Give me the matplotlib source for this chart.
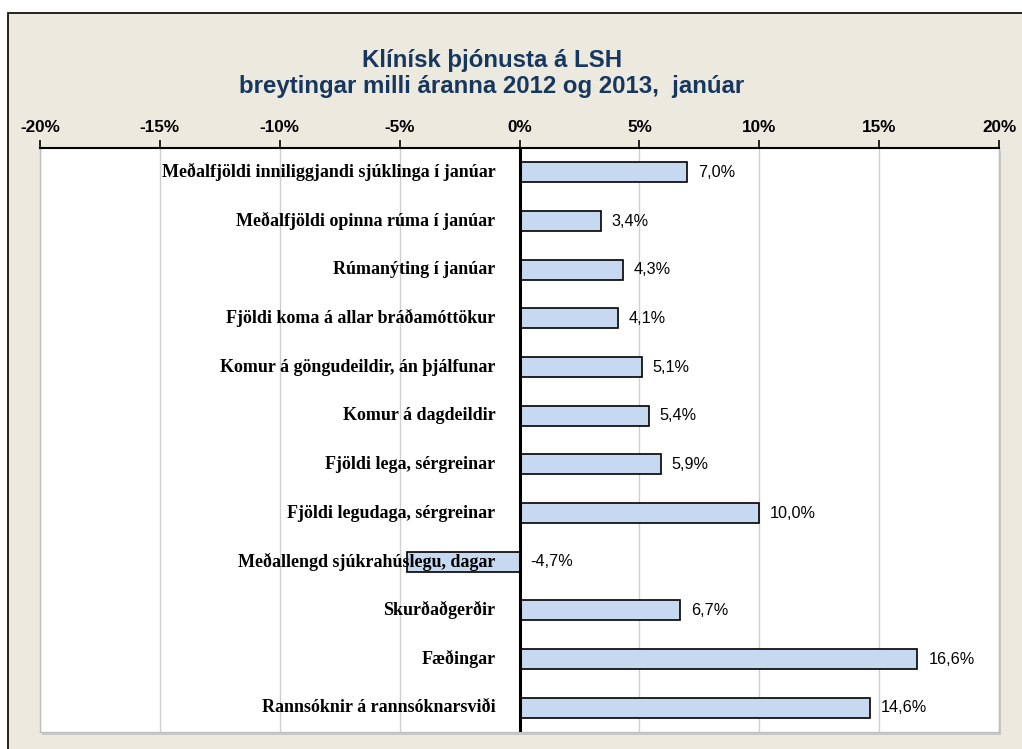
import matplotlib
matplotlib.use("Agg")
import matplotlib.pyplot as plt
from matplotlib.patches import Rectangle
from matplotlib.ticker import FixedLocator

categories = [
    "Meðalfjöldi inniliggjandi sjúklinga í janúar",
    "Meðalfjöldi opinna rúma í janúar",
    "Rúmanýting í janúar",
    "Fjöldi koma á allar bráðamóttökur",
    "Komur á göngudeildir, án þjálfunar",
    "Komur á dagdeildir",
    "Fjöldi lega, sérgreinar",
    "Fjöldi legudaga, sérgreinar",
    "Meðallengd sjúkrahúslegu, dagar",
    "Skurðaðgerðir",
    "Fæðingar",
    "Rannsóknir á rannsóknarsviði",
]
values = [7.0, 3.4, 4.3, 4.1, 5.1, 5.4, 5.9, 10.0, -4.7, 6.7, 16.6, 14.6]
tick_values = [-20, -15, -10, -5, 0, 5, 10, 15, 20]
tick_labels = ["-20%", "-15%", "-10%", "-5%", "0%", "5%", "10%", "15%", "20%"]
title_lines = ["Klínísk þjónusta á LSH", "breytingar milli áranna 2012 og 2013,  janúar"]

W, H = 1022, 749
fig = plt.figure(figsize=(W / 100, H / 100), dpi=100, facecolor="white")
bg = "#ece9df"
fig.patches.append(Rectangle((8 / W, -0.01), 1.02, (H - 13) / H + 0.01, transform=fig.transFigure,
                             facecolor=bg, edgecolor="black", linewidth=1.2, zorder=-2))

ax = fig.add_axes([40 / W, (H - 732) / H, (999 - 40) / W, (732 - 148) / H])
ax.set_zorder(1)
ax.set_facecolor("white")
# shadow
fig.patches.append(Rectangle((42 / W, (H - 735) / H), (999 - 40) / W, (732 - 148) / H, transform=fig.transFigure,
                             facecolor="#c8c8c8", edgecolor="none", zorder=-1))

n = len(categories)
ypos = list(range(n))
ax.barh(ypos, values, height=0.41, color="#c6d9f1", edgecolor="black", linewidth=1.2, zorder=3)
ax.set_xlim(-20, 20)
ax.set_ylim(n - 0.5, -0.5)

ax.xaxis.set_major_locator(FixedLocator(tick_values))
ax.set_xticklabels(tick_labels, fontsize=12.3, fontweight="bold", family="Liberation Sans")
ax.xaxis.tick_top()
ax.tick_params(axis="x", direction="out", length=6, width=1.2, pad=3, colors="black")
ax.set_yticks([])
ax.grid(axis="x", color="#cfcfcf", linewidth=1, zorder=0)
ax.axvline(0, color="black", linewidth=2.2, zorder=4)

for s in ["left", "right", "bottom"]:
    ax.spines[s].set_color("#c0c0c0")
    ax.spines[s].set_linewidth(1)
ax.spines["top"].set_color("black")
ax.spines["top"].set_linewidth(1.5)
ax.spines["top"].set_zorder(5)

for i, (c, v) in enumerate(zip(categories, values)):
    ax.text(-1.0, i, c, ha="right", va="center", fontsize=13, fontweight="bold",
            family="Liberation Serif", zorder=6)
    s = f"{v:.1f}".replace(".", ",") + "%"
    ax.text(max(v, 0) + 0.45, i, s, ha="left", va="center", fontsize=11.7,
            family="Liberation Sans", zorder=6)

fig.text(492 / W, 1 - 67 / H, title_lines[0], ha="center", va="baseline", fontsize=17.3,
         fontweight="bold", color="#17375e", family="Liberation Sans")
fig.text(492 / W, 1 - 93 / H, title_lines[1], ha="center", va="baseline", fontsize=17.3,
         fontweight="bold", color="#17375e", family="Liberation Sans")

fig.savefig("out.png", dpi=100, facecolor="white")
